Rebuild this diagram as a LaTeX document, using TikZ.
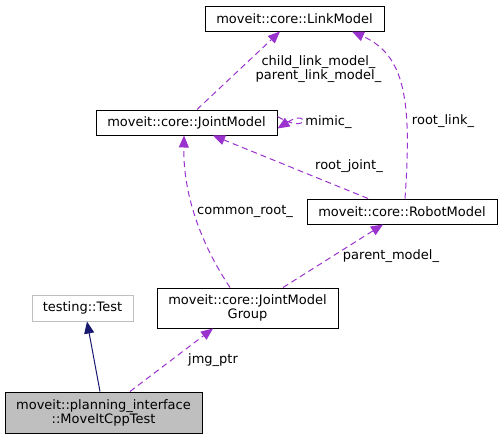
\documentclass[tikz,border=0pt]{standalone}
\usepackage{fontspec}
\setmainfont{DejaVu Sans}
\usetikzlibrary{arrows.meta,calc}
\definecolor{edgepurple}{HTML}{9A32CD}
\definecolor{edgenavy}{HTML}{191970}
\definecolor{boxgray}{HTML}{BFBFBF}
\tikzset{
  cls/.style={draw=black, line width=1pt, inner sep=0pt, align=center, font=\fontsize{13}{14}\selectfont},
  ext/.style={cls, draw=boxgray},
  cur/.style={cls, fill=boxgray},
  usage/.style={draw=edgepurple, line width=1pt, dash pattern=on 6pt off 4pt, -{Triangle[length=12pt,width=10pt,fill=edgepurple]}},
  inherit/.style={draw=edgenavy, line width=1pt, -{Triangle[length=12pt,width=10pt,fill=edgenavy]}},
  lbl/.style={inner sep=0pt, align=center, font=\fontsize{13}{14}\selectfont},
}
\begin{document}
\begin{tikzpicture}[x=1pt,y=-1pt]
\useasboundingbox (0,0) rectangle (503,439);
\node[cls, minimum width=179pt, minimum height=25pt] (link) at (294.5,18.5) {moveit::core::LinkModel};
\node[cls, minimum width=181pt, minimum height=25pt] (jm) at (186.5,122.5) {moveit::core::JointModel};
\node[cls, minimum width=190pt, minimum height=25pt] (robot) at (402,211.5) {moveit::core::RobotModel};
\node[cls, minimum width=181pt, minimum height=40pt] (jmg) at (247.5,308) {moveit::core::JointModel\\Group};
\node[ext, minimum width=101pt, minimum height=26pt] (test) at (82.5,308) {testing::Test};
\node[cur, minimum width=197pt, minimum height=41pt] (mic) at (103.5,412.5) {moveit::planning\_interface\\::MoveItCppTest};

% inheritance
\draw[inherit] ([xshift=-3.5pt]mic.north) -- ([xshift=4.5pt]test.south);
% jmg_ptr
\draw[usage] ([xshift=26.5pt]mic.north) -- ([xshift=-34.5pt]jmg.south);
\node[lbl] (ljmg) at (213,360) {jmg\_ptr};
% parent_model_
\draw[usage] ([xshift=35.5pt]jmg.north) -- ([xshift=-19pt]robot.south);
\node[lbl] (lparent) at (391,256) {parent\_model\_};
% common_root_
\draw[usage] ([xshift=-17.5pt]jmg.north) .. controls (205,250) and (183,200) .. ([xshift=-2.5pt]jm.south);
\node[lbl] (lcommon) at (245,211) {common\_root\_};
% root_joint_
\draw[usage] ([xshift=-34pt]robot.north) -- ([xshift=26.5pt]jm.south);
\node[lbl] (lrootj) at (349,166) {root\_joint\_};
% root_link_
\draw[usage] ([xshift=3pt]robot.north) .. controls (412,100) and (405,55) .. ([xshift=57.5pt]link.south);
\node[lbl] (lrootl) at (443,121) {root\_link\_};
% child/parent link model
\draw[usage] ([xshift=10.5pt]jm.north) -- ([xshift=-14.5pt]link.south);
\node[lbl] (lchild) at (318.5,69.5) {child\_link\_model\_\\parent\_link\_model\_};
% mimic_
\draw[usage] ([yshift=6pt]jm.east) .. controls (310,136) and (310,108) .. ([yshift=-6pt]jm.east);
\node[lbl] (lmimic) at (328.5,122) {mimic\_};
\end{tikzpicture}
\end{document}
